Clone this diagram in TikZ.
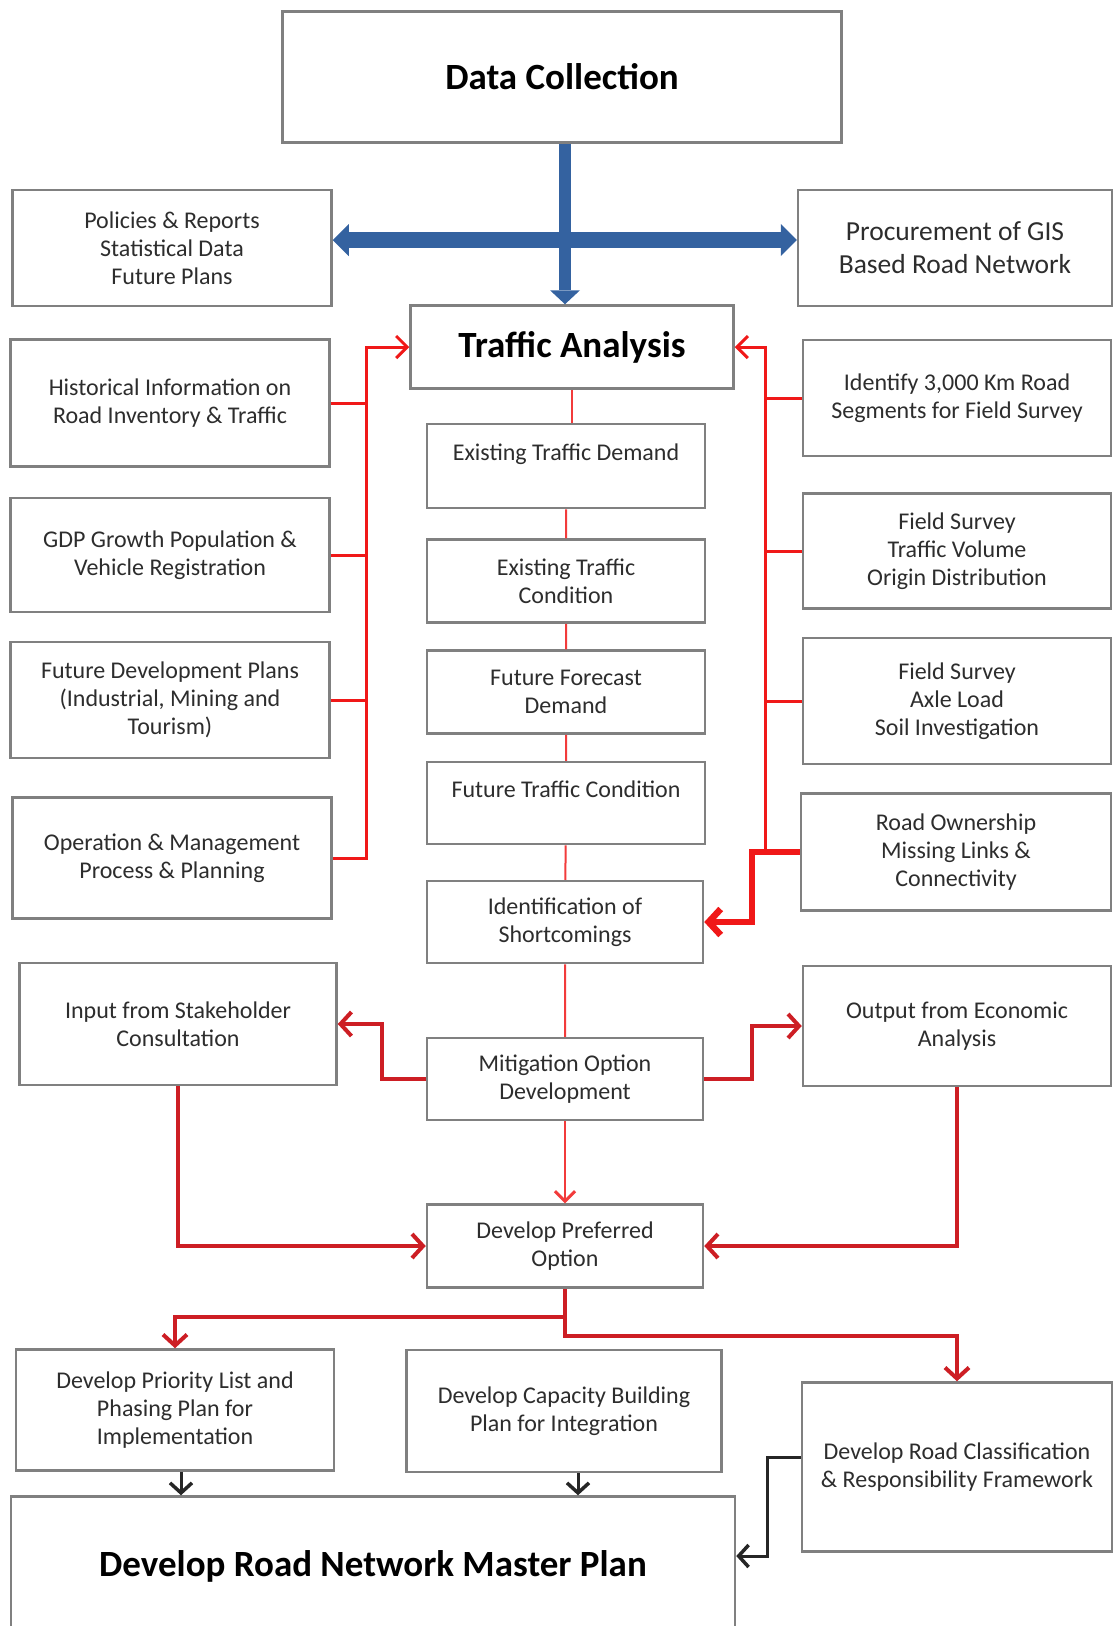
\documentclass[tikz,border=0pt]{standalone}
\usepackage{fontspec}
\setmainfont{Carlito}
\usetikzlibrary{arrows.meta}
\usetikzlibrary{calc}

\definecolor{boxgray}{RGB}{128,128,128}
\definecolor{textgray}{RGB}{45,45,45}
\definecolor{flowblue}{RGB}{52,98,160}
\definecolor{busred}{RGB}{240,24,24}
\definecolor{optred}{RGB}{205,30,36}

\tikzset{
  box/.style={rectangle, draw=boxgray, line width=2.5pt, fill=white, text=textgray, align=center, inner sep=2pt, font=\fontsize{24}{28}\selectfont},
  bigbox/.style={box, text=black, font=\fontsize{37}{44}\selectfont\bfseries},
  gisbox/.style={box, font=\fontsize{27.5}{33}\selectfont},
  bluedown/.style={draw=flowblue, line width=12pt, -{Triangle[length=14pt, width=30pt, line width=0pt]}},
  blueboth/.style={draw=flowblue, line width=16pt, {Triangle[length=16pt, width=32pt, line width=0pt]}-{Triangle[length=16pt, width=32pt, line width=0pt]}},
  busline/.style={draw=busred, line width=3pt},
  busarrow/.style={busline, -{Straight Barb[length=11pt, width=22pt]}},
  ownarrow/.style={draw=busred, line width=6.5pt, -{Straight Barb[length=12pt, width=26pt]}},
  midline/.style={draw=busred!85, line width=2pt},
  midarrow/.style={midline, -{Straight Barb[length=10pt, width=20pt, line width=3pt]}},
  optarrow/.style={draw=optred, line width=4pt, -{Straight Barb[length=11pt, width=24pt]}},
  blkarrow/.style={draw=black!85, line width=3pt, -{Straight Barb[length=10pt, width=22pt, line width=3.5pt]}}
}

\begin{document}
\begin{tikzpicture}[x=1pt, y=-1pt]
      \useasboundingbox (0, 0) rectangle (1113, 1626);
      \clip (0, 0) rectangle (1113, 1626);

      \node[bigbox, minimum width=559pt, minimum height=131pt] (dc) at (562, 77) {Data Collection};
      \node[box, minimum width=319pt, minimum height=116pt] (pol) at (172, 248) {Policies \& Reports\\Statistical Data\\Future Plans};
      \node[gisbox, minimum width=314pt, minimum height=116pt] (gis) at (955, 248) {Procurement of GIS\\Based Road Network};
      \node[bigbox, minimum width=323pt, minimum height=83pt] (ta) at (572, 347) {Traffic Analysis};

      \node[box, minimum width=319pt, minimum height=127pt] (hist) at (170, 403) {Historical Information on\\Road Inventory \& Traffic};
      \node[box, minimum width=319pt, minimum height=114pt] (gdp) at (170, 555) {GDP Growth Population \&\\Vehicle Registration};
      \node[box, minimum width=319pt, minimum height=116pt] (fdp) at (170, 700) {Future Development Plans\\(Industrial, Mining and\\Tourism)};
      \node[box, minimum width=319pt, minimum height=121pt] (omp) at (172, 858) {Operation \& Management\\Process \& Planning};

      \node[box, minimum width=308pt, minimum height=116pt] (seg) at (957, 398) {Identify 3,000 Km Road\\Segments for Field Survey};
      \node[box, minimum width=308pt, minimum height=115pt] (fstv) at (957, 551) {Field Survey\\Traffic Volume\\Origin Distribution};
      \node[box, minimum width=308pt, minimum height=126pt] (axle) at (957, 701) {Field Survey\\Axle Load\\Soil Investigation};
      \node[box, minimum width=310pt, minimum height=117pt] (own) at (956, 852) {Road Ownership\\Missing Links \&\\Connectivity};

      \node[box, minimum width=278pt, minimum height=84pt] (etd) at (566, 466) {Existing Traffic Demand\\~};
      \node[box, minimum width=278pt, minimum height=83pt] (etc) at (566, 581) {Existing Traffic\\Condition};
      \node[box, minimum width=278pt, minimum height=83pt] (ffd) at (566, 692) {Future Forecast\\Demand};
      \node[box, minimum width=278pt, minimum height=82pt] (ftc) at (566, 803) {Future Traffic Condition\\~};
      \node[box, minimum width=276pt, minimum height=82pt] (ids) at (565, 922) {Identification of\\Shortcomings};
      \node[box, minimum width=276pt, minimum height=82pt] (mod) at (565, 1079) {Mitigation Option\\Development};
      \node[box, minimum width=276pt, minimum height=83pt] (dpo) at (565, 1246) {Develop Preferred\\Option};

      \node[box, minimum width=317pt, minimum height=122pt] (isc) at (178, 1024) {Input from Stakeholder\\Consultation};
      \node[box, minimum width=308pt, minimum height=120pt] (oea) at (957, 1026) {Output from Economic\\Analysis};

      \node[box, minimum width=318pt, minimum height=121pt] (dpl) at (175, 1410) {Develop Priority List and\\Phasing Plan for\\Implementation};
      \node[box, minimum width=315pt, minimum height=122pt] (cbp) at (564, 1411) {Develop Capacity Building\\Plan for Integration};
      \node[box, minimum width=310pt, minimum height=169pt] (rcf) at (957, 1467) {Develop Road Classification\\\& Responsibility Framework};
      \node[bigbox, minimum width=724pt, minimum height=139pt] (mp) at (373, 1566) {Develop Road Network Master Plan};

      \coordinate (lb) at (366, 0);
      \coordinate (rb) at (765, 0);
      \coordinate (rk) at (752, 0);
      \coordinate (ml) at (382, 0);
      \coordinate (mr) at (752, 0);
      \coordinate (yl) at (0, 1317);
      \coordinate (yr) at (0, 1336);
      \coordinate (bk) at (767, 1500);

      \draw[blueboth] ([yshift=8pt]pol.east) -- ([yshift=8pt]gis.west);
      \draw[bluedown] ([xshift=3pt]dc.south) -- ([xshift=3pt]dc.south |- ta.north);

      \draw[busarrow] (omp.east) -- (omp.east -| lb) |- (ta.west);
      \draw[busline] (hist.east) -- (hist.east -| lb);
      \draw[busline] (gdp.east) -- (gdp.east -| lb);
      \draw[busline] (fdp.east) -- (fdp.east -| lb);

      \draw[busarrow] (own.west -| rb) |- (ta.east);
      \draw[busline] (seg.west) -- (seg.west -| rb);
      \draw[busline] (fstv.west) -- (fstv.west -| rb);
      \draw[busline] (axle.west) -- (axle.west -| rb);
      \draw[ownarrow] (own.west) -- (own.west -| rk) |- (ids.east);

      \draw[midline] (ta.south) -- (ta.south |- etd.north);
      \draw[midline] (etd) -- (etc) -- (ffd) -- (ftc) -- (ids) -- (mod);
      \draw[midarrow] (mod) -- (dpo);

      \draw[optarrow] (mod.west) -- (mod.west -| ml) |- (isc.east);
      \draw[optarrow] (mod.east) -- (mod.east -| mr) |- (oea.west);
      \draw[optarrow] (isc.south) |- (dpo.west);
      \draw[optarrow] (oea.south) |- (dpo.east);
      \draw[optarrow] (dpo.south) -- (dpo.south |- yl) -| (dpl.north);
      \draw[optarrow] (dpo.south |- yl) -- (dpo.south |- yr) -| (rcf.north);

      \draw[blkarrow] ([xshift=6pt]dpl.south) -- ([xshift=6pt]dpl.south |- mp.north);
      \draw[blkarrow] ([xshift=14pt]cbp.south) -- ([xshift=14pt]cbp.south |- mp.north);
      \draw[blkarrow] ([yshift=10pt]rcf.west) -| (bk) |- ([yshift=10pt]mp.east);
    \end{tikzpicture}
\end{document}
